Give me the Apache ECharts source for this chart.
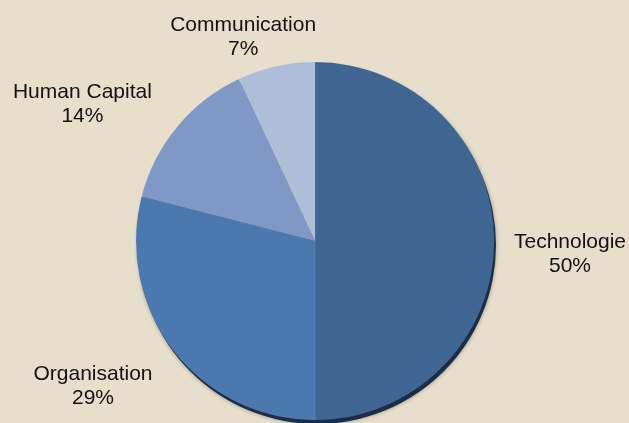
<!DOCTYPE html>
<html>
<head>
<meta charset="utf-8">
<script src="https://cdn.jsdelivr.net/npm/echarts@6/dist/echarts.min.js"></script>
<style>
html,body{margin:0;padding:0;background:#e7dfcc;}
#chart{width:629px;height:423px;}
</style>
</head>
<body>
<div id="chart"></div>
<script>
const categories = ['Technologie', 'Organisation', 'Human Capital', 'Communication'];
const values = [50, 29, 14, 7];
const colors = ['#3f6593', '#4b78ae', '#7f98c5', '#aebed8'];
const labelNudge = [[-4, 13], [-10, 8], [-25, 6], [12, 15]];

const chart = echarts.init(document.getElementById('chart'));
const mainData = categories.map((c, i) => ({ name: c, value: values[i], itemStyle: { color: colors[i] } }));
const shadowData = categories.map((c, i) => ({ name: c, value: values[i] }));

chart.setOption({
  backgroundColor: '#e7dfcc',
  animation: false,
  series: [
    {
      type: 'pie',
      silent: true,
      z: 1,
      center: [317, 245],
      radius: 179,
      startAngle: 90,
      clockwise: true,
      data: shadowData,
      label: { show: false },
      labelLine: { show: false },
      itemStyle: { color: '#1c2d47', shadowBlur: 4, shadowColor: 'rgba(0,0,0,0.35)' }
    },
    {
      type: 'pie',
      z: 2,
      center: [315, 241],
      radius: 179,
      startAngle: 90,
      clockwise: true,
      avoidLabelOverlap: false,
      data: mainData,
      itemStyle: { borderWidth: 0.5, borderColor: 'rgba(255,255,255,0.12)' },
      label: {
        show: true,
        position: 'outside',
        formatter: '{b}\n{d}%',
        fontFamily: 'Liberation Sans, Arial, sans-serif',
        fontSize: 21,
        lineHeight: 24,
        color: '#111'
      },
      labelLine: { show: false, length: 45, length2: 30 },
      labelLayout: function (p) {
        const n = labelNudge[p.dataIndex];
        return { align: 'center', verticalAlign: 'middle', dx: n[0], dy: n[1] };
      }
    }
  ]
});
</script>
</body>
</html>
